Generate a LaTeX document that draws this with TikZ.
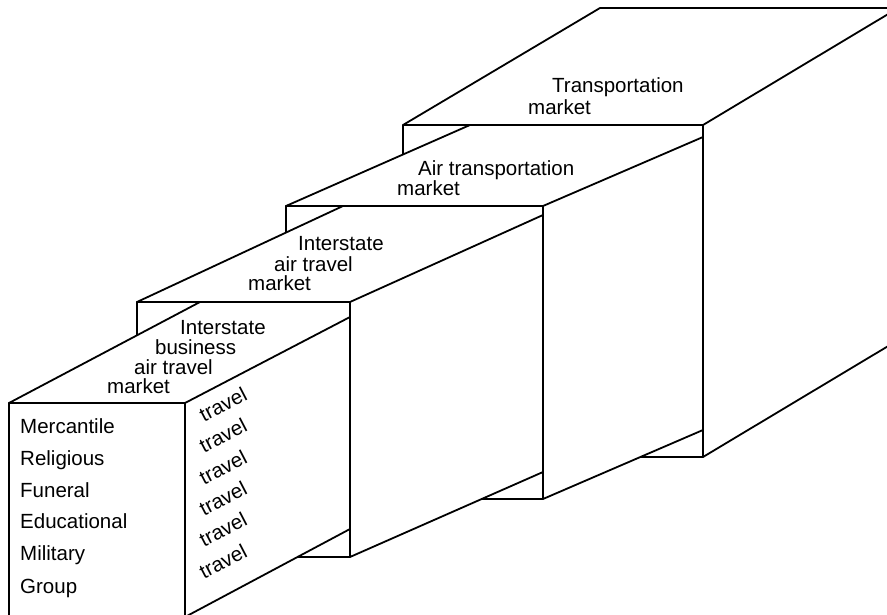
\documentclass[tikz,border=0pt]{standalone}
\usepackage{fontspec}
\setmainfont{Liberation Sans}
\usepackage{tikz}
\usetikzlibrary{calc}
\tikzstyle{boxline} = [black, line width=1.8pt]
\tikzstyle{boxtext} = [font=\fontsize{20.5}{24}\selectfont, inner sep=0pt, anchor=base west]
\tikzstyle{slanttext} = [font=\fontsize{20.5}{24}\selectfont, inner sep=0pt, rotate=27.5]
\newcommand{\drawCrate}[5]{
  % front face
  \coordinate (A) at (#1);
  \coordinate (B) at (#2);
  % where the receding edges stop
  \coordinate (C) at (#3);
  \coordinate (D) at (#4);
  \coordinate (E) at (#5);
  \filldraw[boxline, fill=white] (A |- B) -- (A) -- (C) -- (E |- C) -- (E) -- (B) -- cycle;
  \draw[boxline] (A) -- (B |- A) -- (B);
  \draw[boxline] (B |- A) -- (D);
}

\begin{document}
\begin{tikzpicture}[x=1pt, y=-1pt]
      \clip (0,0) rectangle (887,615);

      \drawCrate{403,125}{703,457}{600,8}{940,-17}{940,315}
      \drawCrate{286,206}{543,499}{470,125}{703,137}{703,430}
      \drawCrate{137,302}{350,557}{343,206}{543,215}{543,472}
      \drawCrate{9,403}{185,617}{200,302}{350,317}{350,529}

      % tops
      \node[boxtext] (trans1) at (552,93) {Transportation};
      \node[boxtext] (trans2) at (528,115) {market};
      \node[boxtext] (air1) at (418,176) {Air transportation};
      \node[boxtext] (air2) at (397,196) {market};
      \node[boxtext] (inter1) at (298,251) {Interstate};
      \node[boxtext] (inter2) at (274,271) {air travel};
      \node[boxtext] (inter3) at (248,290) {market};
      \node[boxtext] (biz1) at (180,334) {Interstate};
      \node[boxtext] (biz2) at (155,354) {business};
      \node[boxtext] (biz3) at (134,374) {air travel};
      \node[boxtext] (biz4) at (107,393) {market};

      % front face
      \node[boxtext] (merc) at (20,433) {Mercantile};
      \node[boxtext] (reli) at (20,465) {Religious};
      \node[boxtext] (fune) at (20,497) {Funeral};
      \node[boxtext] (educ) at (20,528) {Educational};
      \node[boxtext] (mili) at (20,560) {Military};
      \node[boxtext] (grou) at (20,593) {Group};

      % side face
      \node[slanttext] (trav1) at (223,404) {travel};
      \node[slanttext] (trav2) at (223,435.5) {travel};
      \node[slanttext] (trav3) at (223,467) {travel};
      \node[slanttext] (trav4) at (223,498) {travel};
      \node[slanttext] (trav5) at (223,529.5) {travel};
      \node[slanttext] (trav6) at (223,561) {travel};
    \end{tikzpicture}
\end{document}
